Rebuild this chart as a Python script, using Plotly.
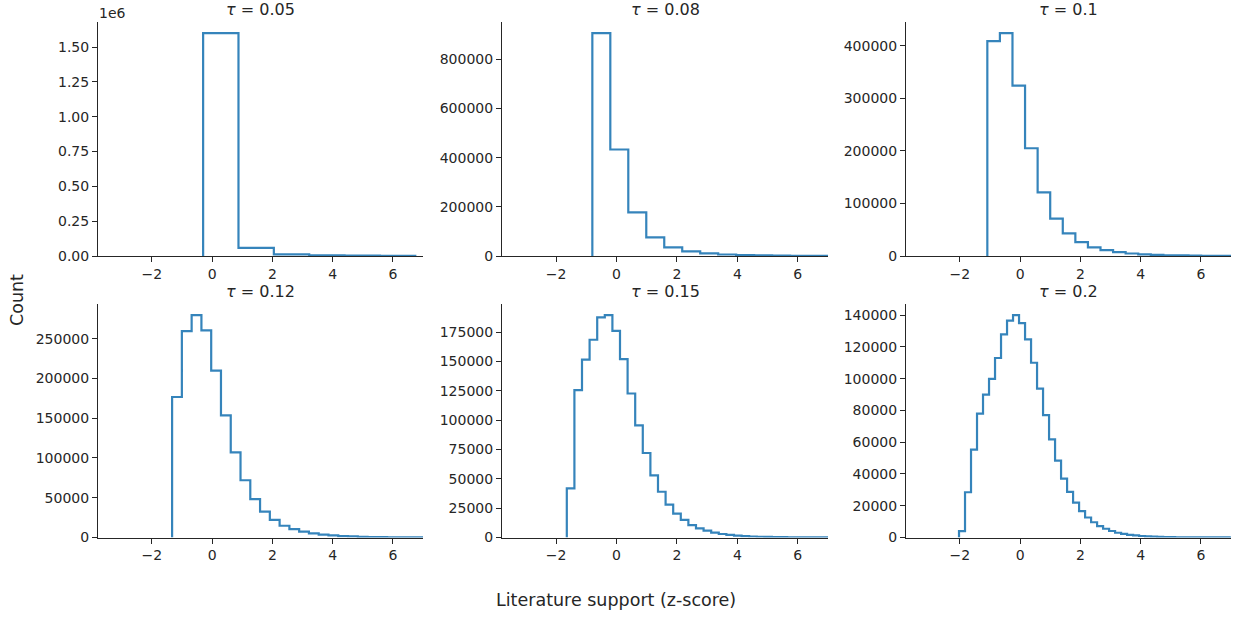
import numpy as np
import plotly.graph_objects as go

# ---------------- data ----------------
taus = ["0.05", "0.08", "0.1", "0.12", "0.15", "0.2"]

# histogram bin start and bin width per panel (z-score units)
bin_start = [-0.30, -0.80, -1.09, -1.33, -1.645, -2.03]
bin_width = [1.174, 0.595, 0.4175, 0.3245, 0.2515, 0.1993]

counts_005 = [1600000, 58000, 12000, 5000, 2000, 1000]
counts_008 = [906000, 433000, 177000, 76000, 35000, 18500, 10500, 6000, 3500,
              2200, 1400, 900, 600, 400]
counts_010 = [409000, 424000, 324000, 205000, 121000, 71000, 43000, 26500,
              16500, 11000, 7500, 4800, 3200, 2100, 1400, 1000, 700, 500, 350, 250]
counts_012 = [176700, 259600, 279700, 260500, 210000, 153700, 107000, 72000,
              48200, 32500, 22200, 14800, 10500, 7500, 5200, 3600, 2600, 1800,
              1300, 900, 650, 450, 320, 230, 160, 110]
counts_015 = [41800, 125600, 151600, 168500, 187500, 189500, 176000, 152000,
              122700, 95500, 72000, 53000, 39000, 28000, 20300, 15000, 10500,
              7800, 5800, 4200, 3000, 2200, 1600, 1150, 850, 620, 450, 330, 240,
              180, 130, 100, 70, 50, 40]
counts_020 = [4000, 28500, 55300, 78000, 90000, 99800, 113000, 127900, 136500,
              140000, 135000, 124700, 110000, 93700, 77000, 61800, 48400, 37100,
              28700, 22000, 16600, 12600, 9600, 7200, 5500, 4100, 3000, 2300,
              1700, 1300, 950, 720, 540, 410, 310, 230, 170, 130, 100, 80, 60,
              45, 35, 27, 20, 15]
all_counts = [counts_005, counts_008, counts_010, counts_012, counts_015, counts_020]

x_ticks = [-2, 0, 2, 4, 6]
x_ticktext = ["\u22122", "0", "2", "4", "6"]
y_tick_steps = [250000, 200000, 100000, 50000, 25000, 20000]

# ---------------- layout geometry ----------------
W, H = 1242, 617
col_px = [(98, 423), (502, 828), (906, 1231)]
row_px = [(22, 256), (304, 537.5)]
XRANGE = [-3.79, 7.0]
LINE = "rgba(31,119,180,0.9)"
TXT = "#262626"
FONT = "DejaVu Sans"

fig = go.Figure()
layout = dict(
    width=W, height=H, margin=dict(l=0, r=0, t=0, b=0, autoexpand=False),
    plot_bgcolor="white", paper_bgcolor="white", showlegend=False,
    font=dict(family=FONT, color=TXT, size=14),
)
annotations = []

for i, counts in enumerate(all_counts):
    r, c = divmod(i, 3)
    n = len(counts)
    edges = bin_start[i] + bin_width[i] * np.arange(n + 1)
    xs = [edges[0]] + list(edges)
    ys = [0] + list(counts) + [0]
    k = i + 1
    xa = "x" if k == 1 else f"x{k}"
    ya = "y" if k == 1 else f"y{k}"
    fig.add_trace(go.Scatter(x=xs, y=ys, mode="lines", line=dict(color=LINE, width=2.2, shape="hv"),
                             xaxis=xa, yaxis=ya, hoverinfo="skip"))
    x0, x1 = col_px[c]
    y0, y1 = row_px[r]
    dom_x = [x0 / W, x1 / W]
    dom_y = [(H - y1) / H, (H - y0) / H]
    ymax = 1.05 * max(counts)
    axcommon = dict(showgrid=False, zeroline=False, showline=True, linecolor=TXT, linewidth=1.1,
                    ticks="outside", ticklen=5, tickwidth=1.1, tickcolor=TXT, automargin=False,
                    tickfont=dict(family=FONT, size=14, color=TXT))
    layout["xaxis" if k == 1 else f"xaxis{k}"] = dict(
        domain=dom_x, range=XRANGE, anchor=ya, tickvals=x_ticks, ticktext=x_ticktext, **axcommon)
    ydict = dict(domain=dom_y, range=[0, ymax], anchor=xa, tick0=0, dtick=y_tick_steps[i], **axcommon)
    if i == 0:
        tv = [0, 250000, 500000, 750000, 1000000, 1250000, 1500000]
        ydict.update(tickmode="array", tickvals=tv, ticktext=[f"{v/1e6:.2f}" for v in tv])
    else:
        ydict.update(tickformat="d")
    layout["yaxis" if k == 1 else f"yaxis{k}"] = ydict
    annotations.append(dict(text=f"<i>\u03c4</i> = {taus[i]}", x=(x0 + x1) / 2 / W, y=(H - 9) / H if r == 0 else (H - 291) / H,
                            xref="paper", yref="paper", xanchor="center", yanchor="middle",
                            showarrow=False, font=dict(family=FONT, size=16, color=TXT)))

annotations.append(dict(text="1e6", x=97 / W, y=(H - 13) / H, xref="paper", yref="paper",
                        xanchor="left", yanchor="middle", showarrow=False,
                        font=dict(family=FONT, size=14, color=TXT)))
annotations.append(dict(text="Count", x=17 / W, y=(H - 300) / H, xref="paper", yref="paper",
                        xanchor="center", yanchor="middle", textangle=-90, showarrow=False,
                        font=dict(family=FONT, size=17.5, color=TXT)))
annotations.append(dict(text="Literature support (z-score)", x=616 / W, y=(H - 600) / H,
                        xref="paper", yref="paper", xanchor="center", yanchor="middle",
                        showarrow=False, font=dict(family=FONT, size=17.5, color=TXT)))
layout["annotations"] = annotations
fig.update_layout(**layout)
fig.write_html("out.html")
